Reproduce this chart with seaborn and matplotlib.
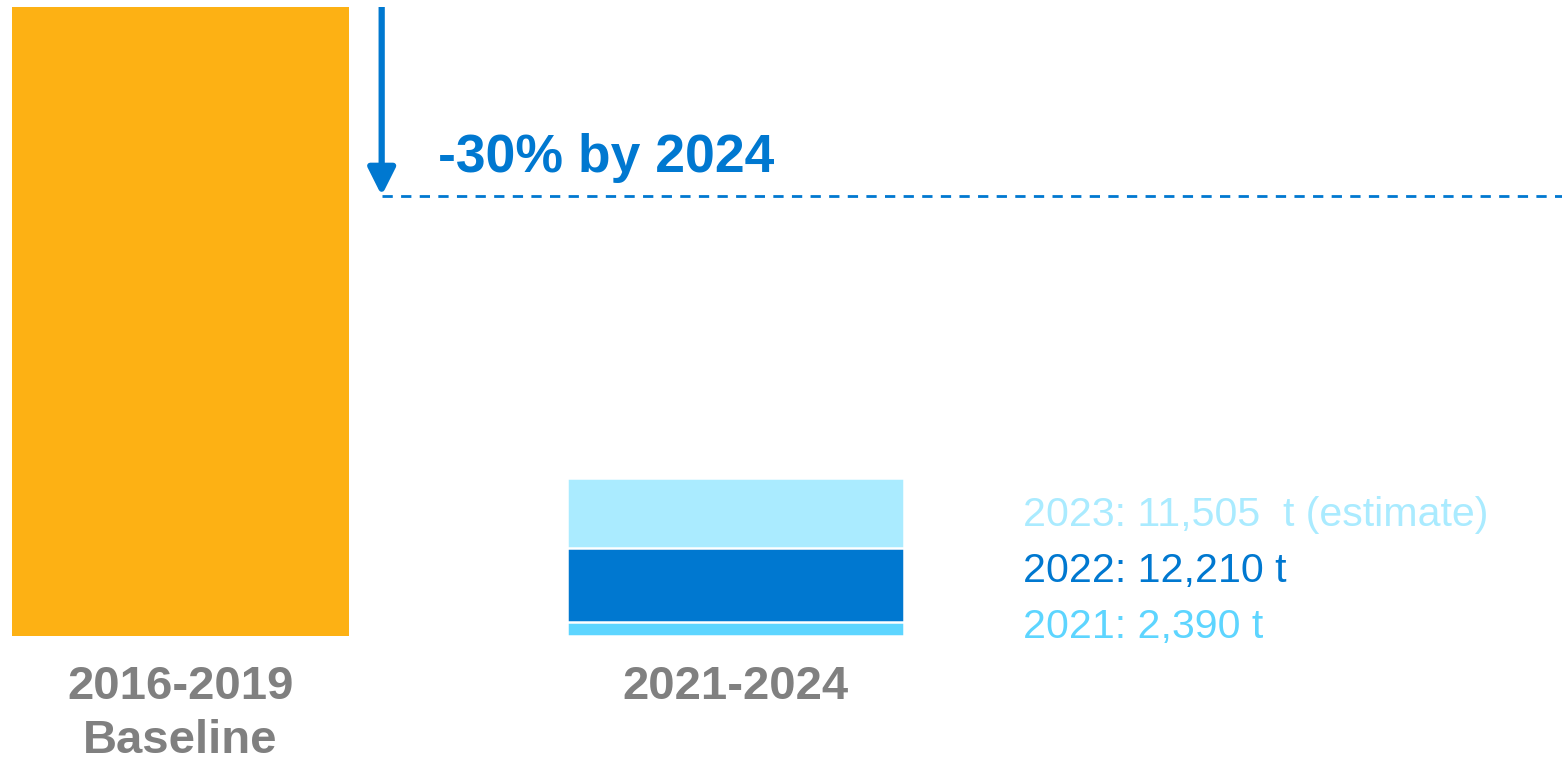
import matplotlib
matplotlib.use("Agg")
import matplotlib.pyplot as plt
import seaborn as sns

# Emissions: baseline period vs. the 2021-2024 reduction period (tonnes)
periods = ["2016-2019\nBaseline", "2021-2024"]
baseline_tonnes = 104000
reduction_target = 0.30
target_label = "-30% by 2024"

years = ["2021", "2022", "2023"]
year_tonnes = [2390, 12210, 11505]
year_units = [" t", " t", "  t (estimate)"]

baseline_color = "#FDB114"
year_colors = ["#5DD5FF", "#0078D0", "#AAEBFF"]
accent_blue = "#0078D0"
label_gray = "#808080"

sns.set_theme(style="white")
plt.rcParams["font.family"] = ["Liberation Sans", "DejaVu Sans"]

fig = plt.figure(figsize=(15.62, 7.63), dpi=100)
ax = fig.add_axes([0.0, 127 / 763, 1.0, 636 / 763])

# Baseline bar
sns.barplot(x=[periods[0]], y=[baseline_tonnes], order=periods,
            color=baseline_color, saturation=1, width=0.607,
            linewidth=0, ax=ax)

# Stacked yearly bar: draw cumulative totals from the top down
cumulative = []
running = 0
for v in year_tonnes:
    running += v
    cumulative.append(running)
for i in reversed(range(len(years))):
    sns.barplot(x=[periods[1]], y=[cumulative[i]], order=periods,
                color=year_colors[i], saturation=1, width=0.606,
                edgecolor="white", linewidth=1.8, ax=ax)

target_value = baseline_tonnes * (1 - reduction_target)
x_arrow = 0.3625

# Reduction arrow and target line
ax.annotate("", xy=(x_arrow, target_value), xytext=(x_arrow, baseline_tonnes),
            arrowprops=dict(arrowstyle="-|>,head_length=0.5,head_width=0.25",
                            mutation_scale=33, color=accent_blue, lw=4.5,
                            capstyle="butt", shrinkA=0, shrinkB=0))
ax.plot([x_arrow, 2.6], [target_value, target_value], color=accent_blue,
        lw=2.0, dashes=(3.7, 3.0), solid_capstyle="butt", dash_capstyle="butt")
ax.text(0.464, target_value + 0.0377 * baseline_tonnes, target_label,
        color=accent_blue, fontsize=38.5, fontweight="bold",
        ha="left", va="baseline")

# Year labels next to the stacked bar
offsets = [-1.4, 39.0, 79.5]
for year, val, unit, col, off in zip(years, year_tonnes, year_units,
                                     year_colors, offsets):
    ax.annotate(f"{year}: {val:,}{unit}", xy=(1.518, 0), xytext=(0, off),
                textcoords="offset points", color=col, fontsize=29.6,
                ha="left", va="baseline")

ax.set_xlim(-0.3252, 2.4892)
ax.set_ylim(0, baseline_tonnes * 636 / 629)
ax.set_xlabel("")
ax.set_ylabel("")
ax.set_yticks([])
ax.tick_params(axis="x", length=0, pad=21)
for lab in ax.get_xticklabels():
    lab.set_fontsize(34)
    lab.set_fontweight("bold")
    lab.set_color(label_gray)
    lab.set_linespacing(1.3)
sns.despine(ax=ax, left=True, bottom=True)

fig.savefig("out.png", dpi=100, facecolor="white")
